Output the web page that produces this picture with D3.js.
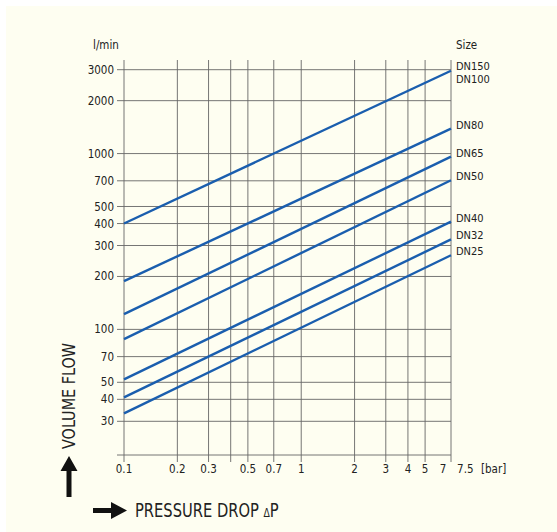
<!DOCTYPE html>
<html>
<head>
<meta charset="utf-8">
<script src="https://cdn.jsdelivr.net/npm/d3@7"></script>
<style>
  html, body { margin: 0; padding: 0; background: #ffffff; }
  svg { display: block; }
  text { font-family: 'Liberation Sans Narrow', 'DejaVu Sans Condensed', 'Arial Narrow', sans-serif; fill: #222; }
</style>
</head>
<body>
<svg id="chart" width="557" height="532"></svg>
<script>
// ---- data ----
const sizeLabels = ["DN100", "DN80", "DN65", "DN50", "DN40", "DN32", "DN25"];
const extraTopLabel = "DN150";
const startFlow = [400, 188, 122, 88, 52, 41, 33.3];   // l/min at 0.1 bar
const endFlow   = [2960, 1385, 960, 705, 410, 325, 264]; // l/min at 7 bar
const pressureStart = 0.1;
const pressureEnd = 7;

const xGrid = [0.1, 0.2, 0.3, 0.4, 0.5, 0.7, 1, 2, 3, 4, 5, 7];
const xTickLabels = [0.1, 0.2, 0.3, 0.5, 0.7, 1, 2, 3, 4, 5, 7, 7.5];
const yGrid = [30, 40, 50, 70, 100, 200, 300, 400, 500, 700, 1000, 2000, 3000];

// ---- layout ----
const svg = d3.select("#chart");
svg.append("rect").attr("x", 6).attr("y", 6).attr("width", 551).attr("height", 526).attr("fill", "#fefef1");

const mLeft = 124, mRight = 451, mTop = 60, mBottom = 455;
const x = d3.scaleLog().domain([0.1, 7]).range([mLeft, mRight]);
const y = d3.scaleLog().domain([30, 3000]).range([421.3, 69.7]);

const gridColor = "#666";

// vertical grid
svg.append("g").selectAll("line").data(xGrid).join("line")
  .attr("x1", d => x(d)).attr("x2", d => x(d))
  .attr("y1", mTop).attr("y2", mBottom + 7)
  .attr("stroke", gridColor).attr("stroke-width", 0.9);

// horizontal grid
svg.append("g").selectAll("line").data(yGrid).join("line")
  .attr("x1", mLeft - 7).attr("x2", mRight)
  .attr("y1", d => y(d)).attr("y2", d => y(d))
  .attr("stroke", gridColor).attr("stroke-width", 0.9);

// bottom axis line
svg.append("line").attr("x1", mLeft - 7).attr("x2", mRight)
  .attr("y1", mBottom).attr("y2", mBottom)
  .attr("stroke", gridColor).attr("stroke-width", 0.9);

// y tick labels
svg.append("g").selectAll("text").data(yGrid).join("text")
  .attr("x", mLeft - 10).attr("y", d => y(d)).attr("dy", "0.35em")
  .attr("text-anchor", "end").attr("font-size", 11.5)
  .text(d => d);

// x tick labels
const xOffset = v => v === 7 ? -8 : (v === 7.5 ? 9 : 0);
svg.append("g").selectAll("text").data(xTickLabels).join("text")
  .attr("x", d => x(d) + xOffset(d)).attr("y", mBottom + 18)
  .attr("text-anchor", "middle").attr("font-size", 11.5)
  .text(d => d);
svg.append("text").attr("x", 481).attr("y", mBottom + 18).attr("font-size", 11.5).text("[bar]");

// unit labels
svg.append("text").attr("x", 93).attr("y", 45).attr("dy", "0.35em").attr("font-size", 11.5).text("l/min");
svg.append("text").attr("x", 456).attr("y", 45).attr("dy", "0.35em").attr("font-size", 11.5).text("Size");

// flow lines
const lines = sizeLabels.map((name, i) => ({ name, start: startFlow[i], end: endFlow[i] }));
svg.append("g").selectAll("line").data(lines).join("line")
  .attr("x1", x(pressureStart)).attr("x2", x(pressureEnd))
  .attr("y1", d => y(d.start)).attr("y2", d => y(d.end))
  .attr("stroke", "#1a5eae").attr("stroke-width", 2.4).attr("stroke-linecap", "butt");

// size labels
svg.append("g").selectAll("text").data(lines).join("text")
  .attr("x", 456)
  .attr("y", (d, i) => i === 0 ? y(d.end) + 8.5 : y(d.end) - 4)
  .attr("dy", "0.35em").attr("font-size", 11)
  .text(d => d.name);
svg.append("text").attr("x", 456).attr("y", y(endFlow[0]) - 4.5).attr("dy", "0.35em")
  .attr("font-size", 11).text(extraTopLabel);

// axis titles
svg.append("text")
  .attr("transform", "translate(75,396) rotate(-90)")
  .attr("text-anchor", "middle").attr("font-size", 17.5)
  .attr("textLength", 106).attr("lengthAdjust", "spacingAndGlyphs")
  .text("VOLUME FLOW");
// up arrow
svg.append("path")
  .attr("d", "M69,456 L77.5,471 L71.5,471 L71.5,497 L66.5,497 L66.5,471 L60.5,471 Z")
  .attr("fill", "#111");

// right arrow
svg.append("path")
  .attr("d", "M127,510.5 L111,502 L111,508 L93,508 L93,513 L111,513 L111,519 Z")
  .attr("fill", "#111");
const pt = svg.append("text").attr("transform", "translate(135,517) scale(0.86,1)").attr("font-size", 19);
pt.append("tspan").text("PRESSURE DROP ");
pt.append("tspan").attr("font-size", 12).text("\u0394");
pt.append("tspan").text("P");
</script>
</body>
</html>
